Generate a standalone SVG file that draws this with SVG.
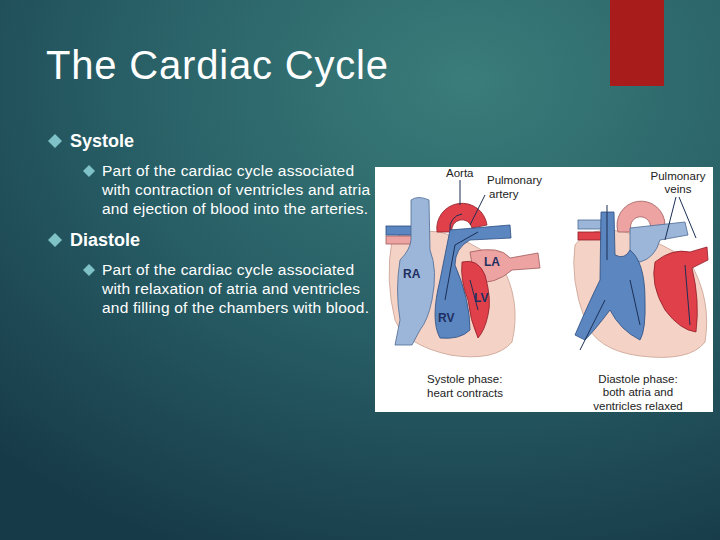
<svg xmlns="http://www.w3.org/2000/svg" width="720" height="540" viewBox="0 0 720 540">
<defs>
<radialGradient id="bg" cx="0.65" cy="0.15" r="0.95">
<stop offset="0" stop-color="#3a7d7a"/>
<stop offset="0.5" stop-color="#285f66"/>
<stop offset="1" stop-color="#173a48"/>
</radialGradient>
<style>
.t{font-family:"Liberation Sans",Arial,sans-serif;fill:#fff}
.h{font-size:18px;font-weight:bold}
.s{font-size:15.5px}
.b{fill:#7fc3c8}
.l{font-family:"Liberation Sans",Arial,sans-serif;font-size:11.5px;fill:#222}
.c{font-weight:bold;fill:#1e2f60;font-size:12px}
.dk{fill:#5b86c0;stroke:#2b4d80;stroke-width:0.8}
.lb{fill:#9bb6d8;stroke:#4d6a94;stroke-width:0.8}
.rd{fill:#e0404a;stroke:#8e1f28;stroke-width:0.8}
.pk{fill:#eea3a3;stroke:#a05a5a;stroke-width:0.8}
.bd{fill:#f4d3c6;stroke:#c9a090;stroke-width:0.8}
.ar{fill:none;stroke:#1c2f55;stroke-width:1}
</style>
</defs>
<rect width="720" height="540" fill="url(#bg)"/>
<rect x="610" y="0" width="54" height="86" fill="#a81c1c"/>
<text class="t" x="46" y="79" font-size="40" textLength="342">The Cardiac Cycle</text>
<g id="systole">
<path class="b" d="M55 134l7 7-7 7-7-7z"/>
<text class="t h" x="70" y="147">Systole</text>
<path class="b" d="M89 165l6 6-6 6-6-6z"/>
<text class="t s" x="102" y="176" textLength="252">Part of the cardiac cycle associated</text>
<text class="t s" x="102" y="195" textLength="268">with contraction of ventricles and atria</text>
<text class="t s" x="102" y="214" textLength="266">and ejection of blood into the arteries.</text>
</g>
<g id="diastole">
<path class="b" d="M55 233l7 7-7 7-7-7z"/>
<text class="t h" x="70" y="246">Diastole</text>
<path class="b" d="M89 264l6 6-6 6-6-6z"/>
<text class="t s" x="102" y="275" textLength="252">Part of the cardiac cycle associated</text>
<text class="t s" x="102" y="294" textLength="258">with relaxation of atria and ventricles</text>
<text class="t s" x="102" y="313" textLength="267">and filling of the chambers with blood.</text>
</g>
<g id="image">
<rect x="375" y="167" width="338" height="245" fill="#fff"/>
<g id="heart-systole">
<path class="bd" d="M392 240 Q405 228 440 232 Q470 240 500 262 Q522 300 512 342 Q495 362 450 355 Q405 345 395 320 Q385 280 392 240z"/>
<rect class="pk" x="386" y="236" width="30" height="8"/>
<rect class="dk" x="386" y="226" width="30" height="9"/>
<path class="lb" d="M411 200 Q418 195 429 200 L430 250 Q438 270 432 300 Q428 320 420 330 L412 345 L395 345 L400 320 Q395 290 400 260 Q410 250 411 240z"/>
<path class="rd" d="M437 232 A25 25 0 1 1 487 225 L472 228 A10 10 0 1 0 452 232z"/>
<path class="dk" d="M450 230 L510 225 L511 238 L470 240 Q455 248 455 265 Q470 300 470 330 Q460 340 440 338 Q430 320 440 280 Q445 255 450 230z"/>
<path class="pk" d="M470 252 Q500 245 510 258 L538 253 L540 268 L512 270 Q495 285 475 282z"/>
<path class="rd" d="M462 262 Q478 258 485 275 Q492 300 488 315 Q485 330 478 338 Q470 320 468 300 Q460 280 462 262z"/>
<path class="ar" d="M462 214 A14 14 0 0 0 450 230 M445 300 L455 245 L478 232 M478 310 L470 280"/>
<text class="l c" x="403" y="278">RA</text>
<text class="l c" x="438" y="322">RV</text>
<text class="l c" x="484" y="266">LA</text>
<text class="l c" x="474" y="302">LV</text>
</g>
<g id="heart-diastole">
<path class="bd" d="M575 245 Q590 225 625 232 Q660 240 690 262 Q712 300 705 342 Q690 362 640 356 Q595 350 585 320 Q570 280 575 245z"/>
<rect class="lb" x="578" y="220" width="25" height="9"/>
<rect class="rd" x="578" y="232" width="25" height="8"/>
<path class="pk" d="M618 232 A24 24 0 1 1 665 225 L650 230 A10 10 0 1 0 632 232z"/>
<path class="lb" d="M630 228 L685 222 L688 235 L660 240 Q655 258 640 262 L630 258z"/>
<path class="dk" d="M601 212 L614 212 L615 255 Q625 260 630 250 Q645 262 645 300 Q646 330 640 340 Q620 330 610 310 Q595 330 585 340 L575 335 Q590 300 600 280z"/>
<path class="rd" d="M655 262 Q672 248 690 252 L707 247 L708 260 L692 268 Q700 300 696 332 Q680 330 665 310 Q650 285 655 262z"/>
<path class="ar" d="M607 205 L607 260 M580 350 L605 300 M630 280 L640 325 M685 265 L690 325"/>
</g>
<text class="l" x="446" y="177">Aorta</text>
<text class="l" x="487" y="184">Pulmonary</text>
<text class="l" x="489" y="198">artery</text>
<text class="l" x="678" y="180" text-anchor="middle">Pulmonary</text>
<text class="l" x="678" y="193" text-anchor="middle">veins</text>
<path class="ar" d="M460 180 L460 205 M485 195 L470 225 M676 197 L665 240 M679 197 L696 238"/>
<text class="l" x="427" y="383">Systole phase:</text>
<text class="l" x="427" y="397">heart contracts</text>
<text class="l" x="638" y="383" text-anchor="middle">Diastole phase:</text>
<text class="l" x="638" y="396" text-anchor="middle">both atria and</text>
<text class="l" x="638" y="410" text-anchor="middle">ventricles relaxed</text>
</g>
</svg>
